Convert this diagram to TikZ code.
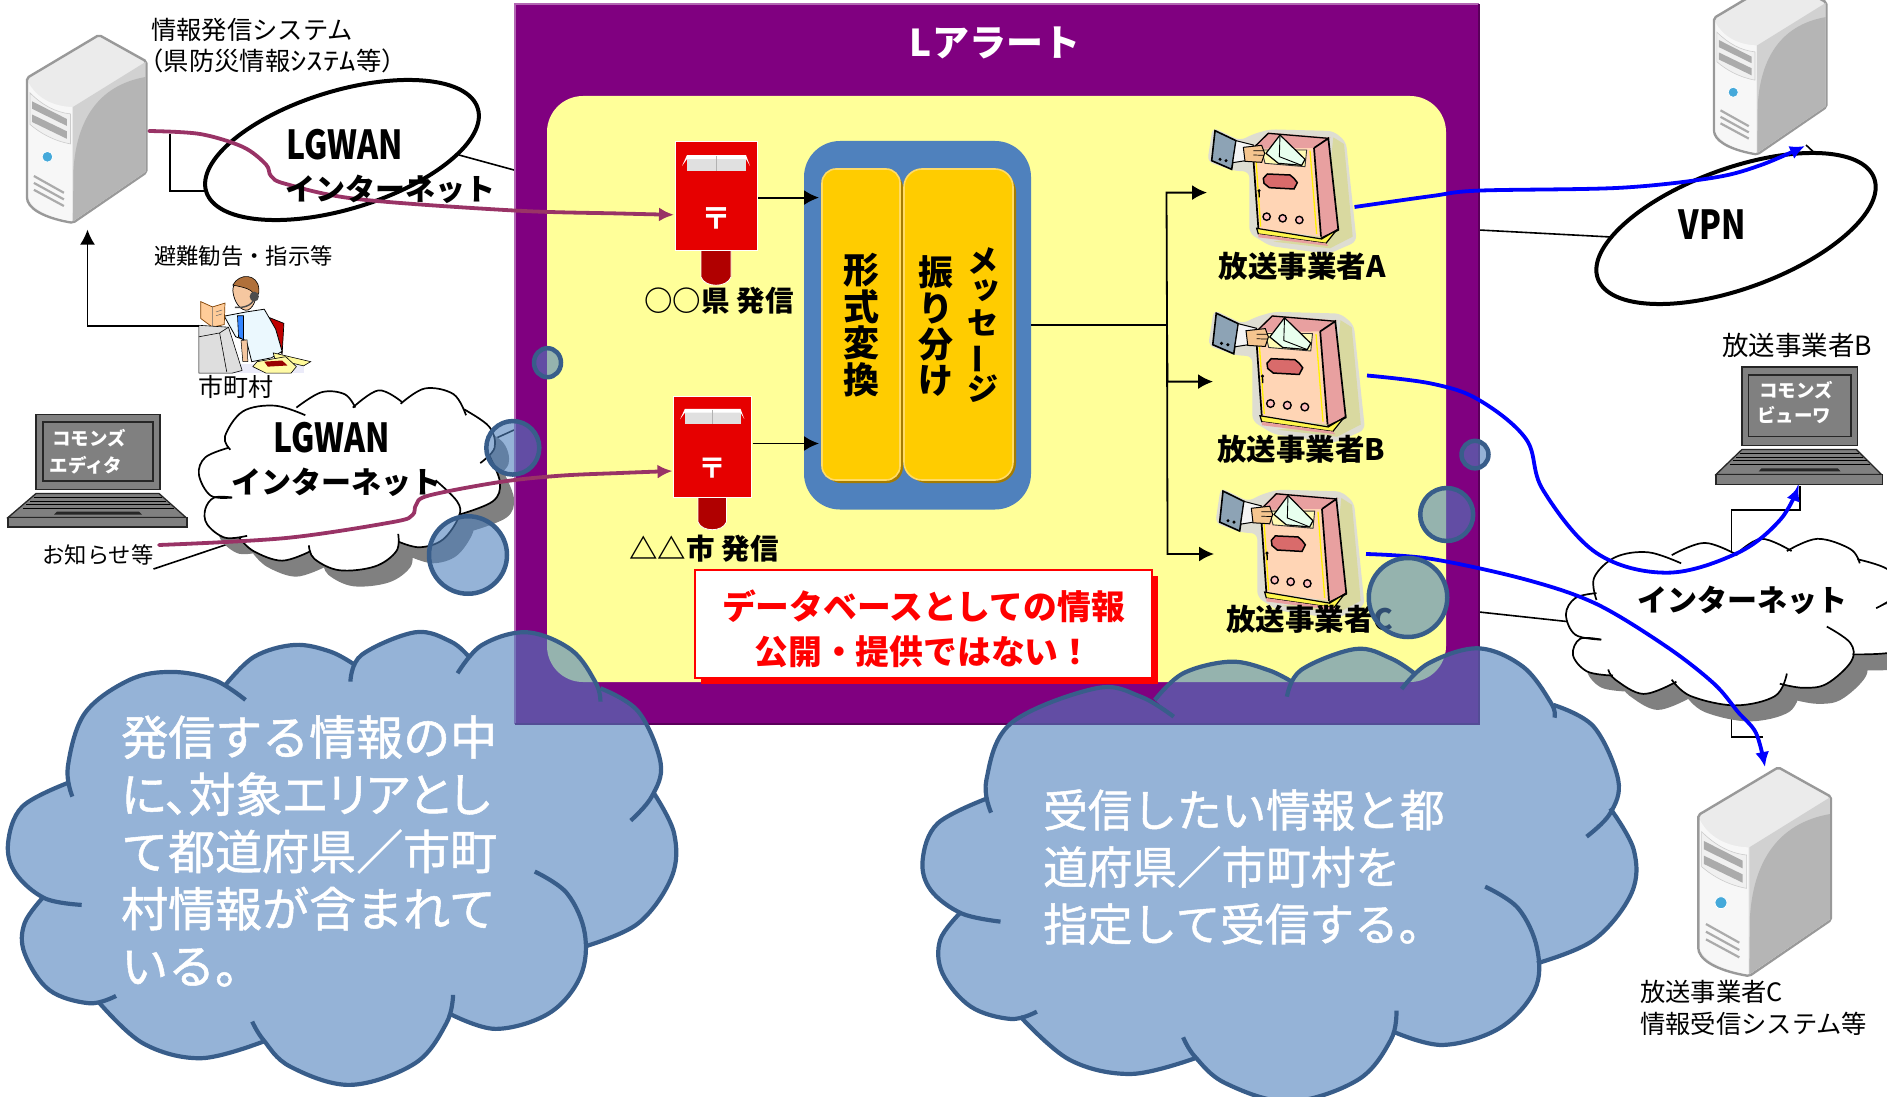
\documentclass[tikz,border=0pt]{standalone}
\usepackage{fontspec}
\usetikzlibrary{arrows.meta,shapes.geometric,calc}
\setmainfont{Noto Sans CJK JP}
\newfontfamily\narrowgoth[FakeStretch=0.8]{Noto Sans CJK JP}
\newfontfamily\heavywhite[FakeBold=1.1]{Noto Sans CJK JP}
\newfontfamily\heavypalt[FakeBold=1.1,RawFeature=+palt]{Noto Sans CJK JP}
\newcommand\Fs[1]{\fontsize{#1}{#1}\selectfont}
\newcommand\FsL[2]{\fontsize{#1}{#2}\selectfont}
\definecolor{purplebg}{HTML}{800080}
\definecolor{yellowbg}{HTML}{FFFF99}
\definecolor{officeblue}{HTML}{4F81BD}
\definecolor{bubbleline}{HTML}{385D8A}
\definecolor{maroonline}{HTML}{993366}
\definecolor{goldbox}{HTML}{FFCC00}
\definecolor{goldlight}{HTML}{FFDB66}
\definecolor{golddark}{HTML}{A67C00}
\definecolor{postred}{HTML}{E60000}
\definecolor{postdark}{HTML}{B00000}
\definecolor{lapgray}{HTML}{808080}
\definecolor{ledblue}{HTML}{45A9DA}
\definecolor{mbHalo}{HTML}{DEDDD2}
\definecolor{mbShade}{HTML}{D9D9A0}
\definecolor{mbSide}{HTML}{E8A0A0}
\definecolor{mbFront}{HTML}{FFD5B5}
\definecolor{mbPlate}{HTML}{D96B6B}
\definecolor{mbCard}{HTML}{8DA3B5}
\definecolor{mbSkin}{HTML}{F5C58F}
\definecolor{mbEnv}{HTML}{E8FFEE}
\definecolor{hairbrown}{HTML}{B0703A}
\definecolor{faceskin}{HTML}{F5C7A0}
\tikzset{
  wire/.style={draw=black,line width=1.6pt},
  arrowwire/.style={draw=black,line width=1.8pt,-{Latex[length=15pt,width=15pt]}},
  maroonarrow/.style={draw=maroonline,line width=3.8pt,line cap=round,-{Latex[length=15pt,width=14pt]}},
  bluearrow/.style={draw=blue,line width=3.8pt,-{Latex[length=15pt,width=14pt]}},
  oval/.style={ellipse,draw=black,fill=white,line width=4pt,inner sep=0pt},
  plainlabel/.style={inner sep=0pt,text=black,align=left},
  boldlabel/.style={inner sep=0pt,text=black,font=\bfseries\Fs{29.5}},
  callouttext/.style={inner sep=0pt,text=white,align=left},
  bubble/.style={ellipse,draw=bubbleline,line width=4.5pt,fill=officeblue,fill opacity=.6,draw opacity=1,inner sep=0pt},
  goldpanel/.style={rounded corners=16pt,fill=goldbox,draw=goldlight,line width=1.6pt},
}
\newcommand\CFill[1]{-- plot[smooth,tension=.6] coordinates {#1}}
\newcommand\CStroke[1]{\draw plot[smooth,tension=.6] coordinates {#1};}
% left blue cloud, zoom units
\newcommand\blueLeft[1]{%
#1{(162,590)(152,500)(190,340)(290,240)(385,216)(480,240)(550,300)}%
#1{(505,255)(570,170)(660,135)(740,155)(795,195)}%
#1{(785,245)(810,165)(930,97)(1010,125)(1050,170)}%
#1{(1025,220)(1080,135)(1180,97)(1280,150)(1335,250)(1345,305)}%
#1{(1345,265)(1430,335)(1480,490)(1460,590)(1413,662)}%
#1{(1465,580)(1510,700)(1505,830)(1430,970)(1310,1040)}%
#1{(1198,815)(1270,880)(1310,1000)(1300,1130)(1230,1240)(1110,1287)(1005,1240)}%
#1{(1015,1185)(1000,1270)(930,1390)(785,1455)(650,1400)(590,1320)(565,1265)}%
#1{(590,1325)(450,1375)(320,1330)(220,1205)}%
#1{(260,1188)(200,1210)(110,1170)(55,1060)(55,970)(98,890)}%
#1{(183,915)(100,895)(35,820)(18,730)(50,620)(150,550)}}
\newcommand\blueRight[1]{%
#1{(193,578)(183,480)(235,310)(415,205)(510,230)(580,290)}%
#1{(540,240)(600,160)(700,125)(780,150)(830,185)}%
#1{(820,230)(850,150)(965,87)(1040,115)(1090,160)}%
#1{(1063,207)(1120,130)(1225,85)(1320,140)(1380,250)(1387,293)}%
#1{(1385,255)(1470,320)(1522,480)(1505,580)(1455,650)}%
#1{(1505,565)(1555,690)(1550,820)(1470,960)(1350,1030)}%
#1{(1240,800)(1310,865)(1350,985)(1345,1110)(1270,1225)(1150,1275)(1045,1235)}%
#1{(1052,1172)(1040,1260)(970,1380)(825,1445)(690,1390)(625,1310)(600,1252)}%
#1{(625,1315)(490,1362)(360,1320)(255,1190)}%
#1{(290,1175)(235,1197)(150,1160)(90,1060)(85,960)(128,878)}%
#1{(213,905)(130,880)(65,810)(48,720)(80,610)(185,535)}}
\newcommand\whiteLeft[1]{%
#1{(650,1300)(590,1295)(557,1240)(575,1195)(640,1170)}%
#1{(645,1175)(630,1140)(680,1075)(770,1060)(855,1085)}%
#1{(830,1065)(900,1025)(965,1030)(995,1065)}%
#1{(988,1065)(1060,1020)(1125,1050)}%
#1{(1122,1055)(1190,1015)(1270,1030)(1305,1085)}%
#1{(1300,1070)(1370,1115)(1385,1170)(1345,1210)}%
#1{(1370,1190)(1400,1260)(1380,1310)(1285,1345)}%
#1{(1220,1255)(1280,1310)(1285,1350)(1240,1410)(1175,1430)(1115,1415)}%
#1{(1115,1395)(1110,1440)(1050,1480)(950,1490)(880,1460)(865,1425)}%
#1{(870,1440)(790,1465)(710,1440)(670,1405)}%
#1{(692,1400)(630,1405)(580,1370)(575,1330)(600,1300)(650,1300)}}
\newcommand\whiteRight[1]{%
#1{(960,1322)(905,1310)(885,1260)(905,1220)(950,1208)}%
#1{(950,1225)(945,1170)(990,1120)(1060,1108)(1130,1135)}%
#1{(1110,1115)(1180,1085)(1250,1115)}%
#1{(1245,1115)(1300,1075)(1365,1105)}%
#1{(1355,1105)(1420,1075)(1490,1100)(1510,1135)}%
#1{(1505,1125)(1570,1150)(1600,1200)(1545,1245)}%
#1{(1580,1230)(1620,1300)(1590,1350)(1495,1358)}%
#1{(1440,1290)(1490,1330)(1492,1375)(1440,1430)(1390,1440)(1340,1430)}%
#1{(1355,1405)(1330,1460)(1245,1483)(1150,1460)(1110,1420)}%
#1{(1120,1425)(1050,1455)(990,1420)(975,1395)}%
#1{(985,1410)(930,1400)(900,1360)(915,1320)(960,1322)}}
% server: zoom units, origin of the top corner box at (235,80)
\newcommand\serverat[3]{%
\begin{scope}[shift={(#1,#2)},x=#3pt,y=-#3pt,shift={(-235,-80)}]
\filldraw[fill=black!8,draw=black!40,line width=2.4pt,rounded corners=2pt]
  (235,225) -- (475,82) -- (633,170) -- (633,540) -- (388,708) .. controls (310,695) and (250,670) .. (235,630) -- cycle;
\fill[black!3] (240,240) .. controls (265,290) and (320,320) .. (385,322) -- (385,703) .. controls (310,690) and (255,665) .. (240,628) -- cycle;
\fill[black!18] (388,322) -- (630,172) -- (630,538) -- (388,703) -- cycle;
\fill[black!29] (390,530) .. controls (400,370) and (470,250) .. (630,222) -- (630,538) -- (388,703) -- cycle;
\filldraw[fill=black!6,draw=black!20,line width=.6pt] (245,275) .. controls (285,315) and (330,340) .. (380,345) -- (380,445) .. controls (325,435) and (280,410) .. (245,380) -- cycle;
\fill[black!33] (252,303) -- (368,362) -- (368,385) -- (252,328) -- cycle;
\fill[black!33] (252,347) -- (368,403) -- (368,428) -- (252,372) -- cycle;
\filldraw[fill=ledblue,draw=white,line width=.8pt] (303,488) circle[radius=18];
\draw[black!33,line width=2.2pt] (258,552) -- (358,608) (258,575) -- (358,630) (258,598) -- (358,652);
\end{scope}}
% laptop: local pixels
\newcommand\laptopat[4]{%
\begin{scope}[shift={(#1,#2)},x=#3pt,y=-#4pt]
\filldraw[fill=lapgray,draw=black!85,line width=1.4pt] (29,0) rectangle (153,75);
\draw[black!85,line width=1.4pt] (36,7.5) rectangle (146,66.5);
\filldraw[fill=lapgray,draw=black!85,line width=1.3pt] (29,79) -- (152,79) -- (179,103) -- (1,103) -- cycle;
\draw[black,line width=1pt] (27,83) -- (155,83) (23,86.5) -- (159,86.5) (19,90) -- (163,90) (16,93.5) -- (167,93.5);
\fill[black!85] (50,97) -- (132,97) -- (135,100) -- (47,100) -- cycle;
\filldraw[fill=lapgray,draw=black!85,line width=1.4pt] (1,103) rectangle (180,112.5);
\end{scope}}
% post box: local pixels, origin top left of the red body, 82 x 109 with post to 145
\newcommand\postat[4]{%
\begin{scope}[shift={(#1,#2)},x=#3pt,y=-#4pt]
\filldraw[fill=postdark,draw=white,line width=.8pt] (26,105) -- (26,136) .. controls (30,147) and (52,147) .. (56,136) -- (56,105) -- cycle;
\filldraw[fill=postred,draw=white,line width=.8pt] (0,0) rectangle (82,109);
\fill[black!12] (12,15) rectangle (71,30);
\fill[white] (7,25) -- (12,14) -- (71,14) -- (75,25) -- (71,18) -- (12,18) -- cycle;
\draw[black!30,line width=.7pt] (41,15) -- (41,30);
\end{scope}}
% mail box with a hand: zoom units
\newcommand\mailboxat[4]{%
\begin{scope}[shift={(#1,#2)},x=#3pt,y=-#4pt]
\fill[mbHalo,rounded corners=6pt] (68,22) -- (150,62) -- (190,42) -- (240,28) -- (430,33) -- (468,65) -- (500,365) -- (415,402) -- (240,378) -- (178,340) -- (178,155) -- (130,152) -- (52,125) -- cycle;
\fill[mbShade] (430,52) -- (462,72) -- (488,350) -- (420,385) -- (250,365) -- (400,340) -- cycle;
\filldraw[fill=mbSide,draw=mbSide,line width=1.6pt] (190,84) -- (235,40) -- (415,55) -- (372,84) -- cycle;
\fill[mbSide] (372,84) -- (415,55) -- (445,330) -- (393,352) -- cycle;
\fill[mbFront] (188,86) -- (372,84) -- (393,350) -- (205,325) -- cycle;
\draw[yellow,line width=1.3pt] (196,92) -- (212,320) (360,92) -- (380,342);
\draw[black,line width=1.7pt] (188,86) -- (205,325) (372,84) -- (393,350) (372,84) -- (415,55) -- (445,330) -- (393,355);
\draw[black,line width=1.3pt] (190,84) -- (235,40) -- (415,55);
\filldraw[fill=yellow!70!white,draw=black,line width=1.2pt] (200,325) -- (395,357) -- (440,330) -- (408,370) -- (205,342) -- cycle;
\fill[mbSide] (205,342) -- (408,370) -- (415,378) -- (205,352) -- cycle;
\filldraw[fill=yellow!30!white,draw=black!80,line width=.9pt] (215,90) -- (350,90) -- (345,140) -- (225,130) -- cycle;
\filldraw[fill=mbEnv,draw=black,line width=1.2pt] (228,100) -- (270,45) -- (345,118) -- (335,136) -- (265,130) -- cycle;
\draw[black,line width=.9pt] (270,45) -- (268,110) -- (335,136);
\filldraw[fill=mbPlate,draw=black,line width=1.5pt] (232,162) -- (300,165) -- (312,175) -- (322,188) -- (312,207) -- (238,203) -- (222,190) -- (220,175) -- cycle;
\fill[black] (207,212) circle[radius=5];
\draw[black,line width=1.3pt] (207,212) -- (208,232);
\filldraw[fill=pink,draw=black,line width=1.4pt] (230,290) circle[radius=11] (278,295) circle[radius=11] (328,300) circle[radius=11];
\filldraw[fill=mbCard,draw=black,line width=1.6pt] (75,32) -- (138,62) -- (125,148) -- (65,122) -- cycle;
\filldraw[fill=black!4,draw=black,line width=1pt] (138,62) -- (190,75) -- (180,120) -- (128,128) -- cycle;
\filldraw[fill=mbSkin,draw=black,line width=1pt] (160,82) -- (215,76) -- (224,100) -- (215,127) -- (165,124) -- cycle;
\draw[black,line width=.7pt] (190,92) -- (222,92) (190,105) -- (222,106);
\fill[black] (90,118) circle[radius=5] (108,122) circle[radius=5];
\end{scope}}
\begin{document}
\begin{tikzpicture}[x=1pt,y=-1pt]
\useasboundingbox (0,0) rectangle (1887,1097);
\clip (0,0) rectangle (1887,1097);
\fill[white] (0,0) rectangle (1887,1097);

% anchor points of connectors
\coordinate (frameOvalL) at (514,170);
\coordinate (ovalLin) at (459,155);
\coordinate (frameCloudL) at (514,430);
\coordinate (cloudLout) at (470,450);
\coordinate (noteEnd) at (153.5,569);
\coordinate (cloudLin) at (240,540);
\coordinate (frameOvalR) at (1479,230);
\coordinate (ovalRin) at (1630,238);
\coordinate (frameCloudR) at (1479,612);
\coordinate (cloudRin) at (1590,624);
\coordinate (srvTieA) at (170,134);
\coordinate (srvTieB) at (170,191);
\coordinate (ovalTie) at (225,191);
\coordinate (topSrvTie) at (1806,145);
\coordinate (ovalTop) at (1820,158);
\coordinate (cRup) at (1731.5,570);
\coordinate (cRupB) at (1731.5,510);
\coordinate (cRupC) at (1800,510);
\coordinate (lapB) at (1800,486);
\coordinate (cRdn) at (1731.5,690);
\coordinate (cRdnB) at (1731.5,737);
\coordinate (srvC) at (1763,737);

% thin ties behind the clouds
\draw[wire] (noteEnd) -- (cloudLin);
\draw[wire] (cloudLout) -- (frameCloudL);
\draw[wire] (cloudRin) -- (frameCloudR);
\draw[wire] (cRup) -- (cRupB) -- (cRupC) -- (lapB);
\draw[wire] (cRdn) -- (cRdnB) -- (srvC);
\draw[wire] (ovalLin) -- (frameOvalL);
\draw[wire] (ovalRin) -- (frameOvalR);
\draw[wire] (srvTieA) -- (srvTieB) -- (ovalTie);
\draw[wire] (topSrvTie) -- (ovalTop);

% white clouds with shadows
\begin{scope}[shift={(14,16)}]
\begin{scope}[x=.3571pt,y=-.3827pt]
\fill[lapgray] (650,1300) \whiteLeft\CFill -- cycle;
\end{scope}
\begin{scope}[shift={(1150,100)},x=.47pt,y=-.4082pt]
\fill[lapgray] (960,1322) \whiteRight\CFill -- cycle;
\end{scope}
\end{scope}
\begin{scope}[x=.3571pt,y=-.3827pt]
\fill[white] (650,1300) \whiteLeft\CFill -- cycle;
\begin{scope}[color=black,line width=1.7pt]\whiteLeft\CStroke\end{scope}
\end{scope}
\begin{scope}[shift={(1150,100)},x=.47pt,y=-.4082pt]
\fill[white] (960,1322) \whiteRight\CFill -- cycle;
\begin{scope}[color=black,line width=1.7pt]\whiteRight\CStroke\end{scope}
\end{scope}

% ovals
\node[oval,minimum width=284pt,minimum height=118pt,rotate=17] (ovalL) at (342,150) {};
\node[oval,minimum width=294pt,minimum height=120pt,rotate=20] (ovalR) at (1736,228.5) {};

% main frame
\fill[purplebg] (515,4) rectangle (1479,724);
\draw[purplebg!60!white,line width=2.5pt] (515,724) -- (515,4) -- (1479,4);
\draw[purplebg!70!black,line width=2pt] (515,724) -- (1479,724) -- (1479,4);
\fill[yellowbg,rounded corners=36pt] (547,96) rectangle (1446,682);
\node[inner sep=0pt,text=white,font=\bfseries\Fs{37}] (title) at (995,43) {Lアラート};

% central panel
\fill[officeblue,rounded corners=36pt] (804,141) rectangle (1031,509.5);
\fill[golddark,rounded corners=16pt] (825,172) rectangle (903,483);
\fill[golddark,rounded corners=20pt] (907,172) rectangle (1016,483);
\path[goldpanel,rounded corners=14pt] (822,169) rectangle (900,480);
\path[goldpanel,rounded corners=18pt] (904,169) rectangle (1013,480);
\node[inner sep=0pt,align=center,font=\bfseries\FsL{36}{36.7}] (fmtText) at (861,325) {形\\式\\変\\換};
\node[inner sep=0pt,align=center,font=\bfseries\FsL{35}{35.7}] (sortText) at (936,326) {振\\り\\分\\け};
\node[inner sep=0pt,align=center,font=\bfseries\FsL{31}{31.3}] (msgText) at (982.5,325) {メ\\\hspace*{.25em}\raisebox{.15em}{ッ}\\セ\\\rotatebox[origin=c]{90}{ー}\\ジ};

% post boxes
\postat{675}{141}{1}{1}
\postat{673.5}{396}{.945}{.927}
\node[inner sep=0pt,text=white,font=\bfseries\Fs{30}] (postA) at (716,219) {〒};
\node[inner sep=0pt,text=white,font=\bfseries\Fs{28}] (postB) at (712,468) {〒};
\node[boldlabel,font=\bfseries\Fs{28.5}] (postAL) at (719,301) {○○県 発信};
\node[boldlabel,font=\bfseries\Fs{28.5}] (postBL) at (704,548.5) {△△市 発信};
\coordinate (pbAout) at (758,197.6);
\coordinate (pbBout) at (752.5,443.5);
\coordinate (panelA) at (819,197.6);
\coordinate (panelB) at (819,443.5);
\draw[arrowwire] (pbAout) -- (panelA);
\draw[arrowwire] (pbBout) -- (panelB);

% distribution
\coordinate (panelOut) at (1031,325);
\coordinate (trunk) at (1167,325);
\coordinate (trunkA) at (1166.5,192.6);
\coordinate (trunkB) at (1167.5,381.6);
\coordinate (trunkC) at (1167.5,554);
\coordinate (mbA) at (1207,192.6);
\coordinate (mbB) at (1213,381.6);
\coordinate (mbC) at (1214,554);
\draw[wire,line width=1.9pt] (panelOut) -- (trunk);
\draw[arrowwire] (trunk) -- (trunkA) -- (mbA);
\draw[arrowwire] (trunk) -- (trunkB) -- (mbB);
\draw[arrowwire] (trunk) -- (trunkC) -- (mbC);

% curves that end at the post boxes and the receivers (start behind the pictures)
\coordinate (srvLeft) at (149,131);
\coordinate (boxA) at (674,214.8);
\coordinate (noteStart) at (159,545);
\coordinate (boxB) at (672.5,471);
\draw[maroonarrow] plot[smooth,tension=.55] coordinates {(srvLeft)(200,134)(243,147)(266,164.5)(271,176)(286,184)(357,199)(514,210.5)(620,213.5)(boxA)};
\draw[maroonarrow] plot[smooth,tension=.55] coordinates {(noteStart)(286,538)(393,522)(412.5,515)(416,505)(428.5,495.6)(500,482)(560,475.7)(620,473)(boxB)};

\coordinate (mbAout) at (1354.5,207);
\coordinate (srvTop) at (1805,146);
\coordinate (mbBout) at (1367,375.5);
\coordinate (lapTop) at (1798.6,486);
\coordinate (mbCout) at (1366,554);
\coordinate (srvBot) at (1765,767);
\draw[bluearrow] plot[smooth,tension=.55] coordinates {(mbAout)(1432,196)(1479,190.6)(1620,187.8)(1714,177.6)(1761,165)(srvTop)};
\draw[bluearrow] plot[smooth,tension=.6] coordinates {(mbBout)(1432,383.7)(1479,400)(1526,439)(1543,490)(1596.5,553)(1667,572.7)(1737.5,553)(1780,520)(lapTop)};
\draw[bluearrow] plot[smooth,tension=.55] coordinates {(mbCout)(1432,559)(1526,579.6)(1596.5,604)(1667,647)(1714,683.7)(1738,712)(1756,733)(srvBot)};
\draw[blue,line width=2pt] (1316,217.5) -- (1320,216) (1290,233) -- (1292,229);

% mail boxes
\mailboxat{1190}{120}{.3333}{.3333}
\mailboxat{1190}{302}{.35}{.35}
\mailboxat{1198}{480}{.3333}{.345}
\node[boldlabel] (lblA) at (1302,266) {放送事業者A};
\node[boldlabel] (lblB) at (1301,449) {放送事業者B};
\node[boldlabel] (lblC) at (1310,619) {放送事業者C};

% warning box
\fill[red] (701,576) rectangle (1158,684);
\node[draw=red,line width=2.4pt,fill=white,minimum width=457pt,minimum height=108pt,inner sep=0pt] (warn) at (923.5,624) {};
\node[inner sep=0pt,text=red,align=center,font=\bfseries\FsL{33.8}{45.5}] (warnText) at (923.5,629) {データベースとしての情報\\公開・提供ではない！};

% servers and laptops
\serverat{27}{34.4}{.3}
\serverat{1714}{-23}{.2825}
\serverat{1698.3}{766.7}{.3333}
\laptopat{7}{414.5}{1}{1}
\laptopat{1715}{367}{.93}{1.044}
\node[inner sep=0pt,text=white,font=\bfseries\Fs{18.5}] (ed1) at (89,438) {コモンズ};
\node[inner sep=0pt,text=white,font=\bfseries\Fs{18.5}] (ed2) at (86,465) {エディタ};
\node[inner sep=0pt,text=white,font=\bfseries\Fs{18.5}] (vw1) at (1796,390) {コモンズ};
\node[inner sep=0pt,text=white,font=\bfseries\Fs{18.5}] (vw2) at (1794,415.5) {ビューワ};

% operator at the municipal office
\begin{scope}[x=.3571pt,y=-.3827pt]
\fill[black!28!blue!8!white] (557,950) rectangle (850,975);
\filldraw[fill=red!75!black,draw=black,line width=.7pt] (755,830) -- (795,845) -- (790,925) -- (770,890) -- cycle;
\filldraw[fill=cyan!8!white,draw=black,line width=.8pt] (628,826) -- (690,815) -- (740,808) -- (772,860) -- (790,918) -- (760,935) -- (705,945) -- (690,890) -- (660,880) -- cycle;
\filldraw[fill=blue!60!cyan!80!white,draw=black,line width=.6pt] (665,825) -- (682,825) -- (682,888) -- (668,880) -- cycle;
\filldraw[fill=faceskin,draw=black,line width=.7pt] (652,760) .. controls (650,730) and (690,725) .. (712,745) .. controls (722,770) and (715,800) .. (695,810) .. controls (675,815) and (655,790) .. (652,760) -- cycle;
\filldraw[fill=hairbrown,draw=black,line width=.6pt] (652,745) .. controls (670,712) and (722,715) .. (725,755) .. controls (727,770) and (720,775) .. (712,772) .. controls (708,755) and (680,750) .. (652,745) -- cycle;
\fill[black!70] (712,775) circle[radius=13];
\draw[black!70,line width=1.4pt] (712,780) .. controls (705,800) and (680,805) .. (658,803);
\filldraw[fill=orange!40!white,draw=orange!50!black,line width=.7pt] (562,788) -- (595,802) -- (630,792) -- (628,848) -- (595,855) -- (562,832) -- cycle;
\draw[black!60,line width=.5pt] (595,802) -- (595,855) (605,815) -- (622,810) (605,825) -- (622,820);
\filldraw[fill=black!13,draw=black,line width=.6pt] (557,850) -- (640,855) -- (678,968) -- (650,975) -- (557,975) -- cycle;
\draw[black,line width=.6pt] (557,880) -- (615,870) -- (635,972) (615,870) -- (640,855);
\filldraw[fill=faceskin,draw=black,line width=.5pt] (675,890) -- (692,888) -- (694,945) -- (680,945) -- cycle;
\filldraw[fill=yellow!40!white,draw=black,line width=.6pt] (765,922) -- (870,945) -- (850,956) -- (770,938) -- cycle;
\filldraw[fill=yellow!35!white,draw=black,line width=.6pt] (720,945) -- (800,932) -- (830,958) -- (815,975) -- (745,975) -- (708,958) -- cycle;
\fill[red!60!black] (740,945) -- (790,942) -- (805,955) -- (750,958) -- cycle;
\end{scope}
\coordinate (muniOut) at (199,325.7);
\coordinate (muniTurn) at (87.5,325.7);
\coordinate (srvBottom) at (87.5,229.6);
\draw[arrowwire] (muniOut) -- (muniTurn) -- (srvBottom);

% plain labels
\node[plainlabel,anchor=west,font=\FsL{25.3}{31}] (srcL) at (151,45.5) {情報発信システム\\\hspace*{-.5em}（県防災情報\scalebox{1.3}[1]{ｼｽﾃﾑ}等）};
\node[plainlabel,font=\Fs{22.3}] (evac) at (243.5,256) {避難勧告・指示等};
\node[plainlabel,font=\Fs{25}] (muni) at (235.5,386.5) {市町村};
\node[plainlabel,font=\Fs{22.3}] (notice) at (98,555) {お知らせ等};
\node[plainlabel,font=\Fs{26.5}] (brB) at (1797,345.7) {放送事業者B};
\node[plainlabel,anchor=west,font=\FsL{25.3}{32}] (brC) at (1640,1008) {放送事業者C\\情報受信システム等};

% network labels
\node[inner sep=0pt,font=\narrowgoth\bfseries\Fs{40}] (lg1) at (345,145) {LGWAN};
\node[inner sep=0pt,font=\bfseries\Fs{30}] (net1) at (390,189.5) {インターネット};
\node[inner sep=0pt,font=\narrowgoth\bfseries\Fs{40}] (lg2) at (332,438) {LGWAN};
\node[inner sep=0pt,font=\bfseries\Fs{30}] (net2) at (336,482) {インターネット};
\node[inner sep=0pt,font=\bfseries\Fs{30}] (net3) at (1742,600) {インターネット};
\node[inner sep=0pt,font=\narrowgoth\bfseries\Fs{40}] (vpn) at (1712,224.5) {VPN};

% callouts
\begin{scope}[x=.4464pt,y=-.3333pt,shift={(0,1800)}]
\fill[officeblue,fill opacity=.6] (162,590) \blueLeft\CFill -- cycle;
\begin{scope}[color=bubbleline,line width=4.2pt]\blueLeft\CStroke\end{scope}
\end{scope}
\begin{scope}[shift={(900,620)},x=.4719pt,y=-.3333pt]
\fill[officeblue,fill opacity=.6] (193,578) \blueRight\CFill -- cycle;
\begin{scope}[color=bubbleline,line width=4.2pt]\blueRight\CStroke\end{scope}
\end{scope}
\node[bubble,minimum width=27pt,minimum height=29pt] (bubL1) at (547.5,362.7) {};
\node[bubble,minimum width=53pt,minimum height=53.5pt] (bubL2) at (512.8,447.8) {};
\node[bubble,minimum width=78pt,minimum height=77.5pt] (bubL3) at (468,555) {};
\node[bubble,minimum width=27pt,minimum height=27.5pt] (bubR1) at (1475,454.6) {};
\node[bubble,minimum width=53pt,minimum height=53pt] (bubR2) at (1446.7,514.5) {};
\node[bubble,minimum width=78.5pt,minimum height=79pt] (bubR3) at (1408,597.5) {};
\node[callouttext,anchor=west,font=\heavywhite\FsL{47}{57.2}] (noteL) at (121,851) {発信する情報の中\\{\heavypalt に、対象エリアとし}\\て都道府県／市町\\村情報が含まれて\\いる。};
\node[callouttext,anchor=west,font=\heavywhite\FsL{44.6}{57}] (noteR) at (1043,867) {受信したい情報と都\\道府県／市町村を\\指定して受信する。};
\end{tikzpicture}
\end{document}
